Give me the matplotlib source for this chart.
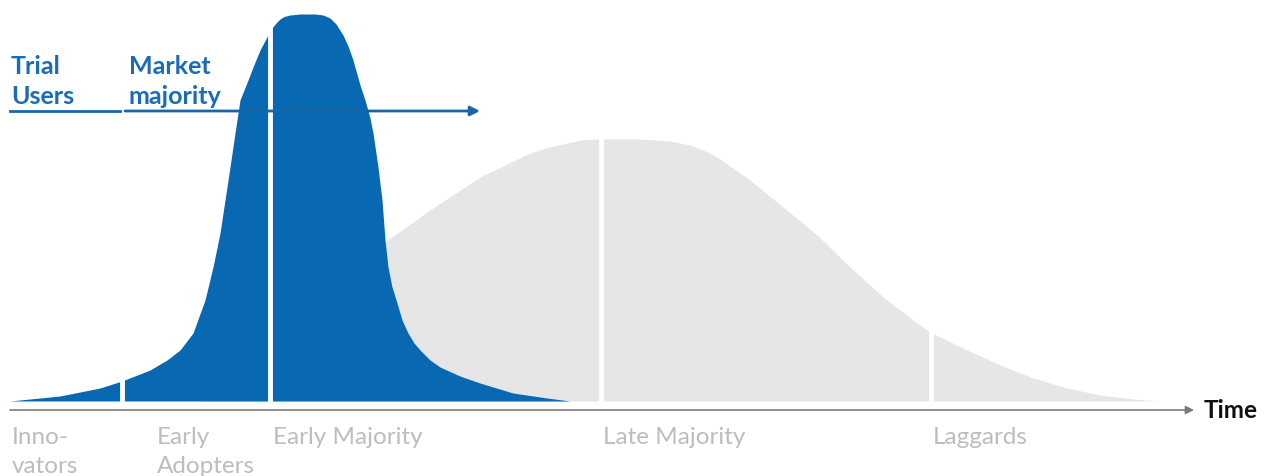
import matplotlib.pyplot as plt

plt.rcParams['font.family'] = ['Lato', 'DejaVu Sans']

# curves, pixel coords (y grows downward), baseline at 401
blue_x = [10, 60, 100, 122, 150, 167, 180, 193, 205, 213, 220, 225, 230, 235, 240,
          248, 253, 260, 268, 272, 276, 280, 284, 290, 300, 315, 323, 330, 336, 343,
          348, 353, 360, 365, 370, 373, 378, 382, 385, 388, 392, 397, 402, 408, 414,
          420, 430, 440, 460, 480, 513, 547, 570]
blue_y = [401, 396, 388, 381, 370, 360, 350, 333, 300, 267, 233, 200, 167, 133, 100,
          80, 67, 50, 35, 28, 23, 19, 16.5, 15, 14, 14, 15, 18, 24, 35,
          46, 60, 85, 100, 118, 133, 167, 200, 240, 267, 287, 303, 320, 333, 343,
          350, 360, 367, 376, 383, 393, 398, 401]

gray_x = [200, 260, 320, 385, 430, 480, 530, 550, 580, 600, 640, 670, 690, 705, 717,
          750, 783, 817, 850, 883, 917, 930, 967, 1000, 1033, 1067, 1100, 1133, 1160, 1190]
gray_y = [401, 370, 305, 242, 210, 177, 153, 147, 140, 139, 139, 141, 145, 151, 157,
          180, 207, 235, 267, 297, 323, 332, 350, 365, 378, 388, 395, 399, 401, 401]

separators = [122, 270, 601, 931]
stages = ["Inno-\nvators", "Early\nAdopters", "Early Majority", "Late Majority", "Laggards"]
stage_x = [12, 157, 273, 603, 933]

blue = "#0869b2"
fig = plt.figure(figsize=(12.71, 4.76), dpi=100)
ax = fig.add_axes([0, 0, 1, 1])
ax.set_xlim(0, 1271)
ax.set_ylim(476, 0)
ax.axis("off")

ax.fill_between(gray_x, gray_y, 401, color="#e6e6e6", lw=0)
ax.fill_between(blue_x, blue_y, 401, color=blue, lw=0)

# time axis
ax.annotate("", xy=(1194, 410), xytext=(10, 410),
            arrowprops=dict(arrowstyle="-|>", color="#7a7a7a", lw=1.2,
                            mutation_scale=12, shrinkA=0, shrinkB=0))
ax.text(1204, 418, "Time", fontsize=17.5, fontweight="bold", color="#111111",
        va="baseline")

for sx in separators:
    ax.plot([sx, sx], [0, 425], color="white", lw=3.5, solid_capstyle="butt")

# header labels
ax.plot([10, 120], [111, 111], color="#1a64a8", lw=2)
ax.annotate("", xy=(480, 111), xytext=(125, 111),
            arrowprops=dict(arrowstyle="-|>", color="#1a64a8", lw=2,
                            mutation_scale=14, shrinkA=0, shrinkB=0))
for x, (l1, l2) in zip([11, 129], [("Trial", "Users"), ("Market", "majority")]):
    ax.text(x, 74, l1, fontsize=18, fontweight="bold", color="#1a6db5", va="baseline")
    ax.text(x, 104, l2, fontsize=18, fontweight="bold", color="#1a6db5", va="baseline")

for x, s in zip(stage_x, stages):
    for i, ln in enumerate(s.split("\n")):
        ax.text(x, 444 + 29 * i, ln, fontsize=17.5, color="#bdbdbd", va="baseline")

fig.savefig("out.png", dpi=100)
